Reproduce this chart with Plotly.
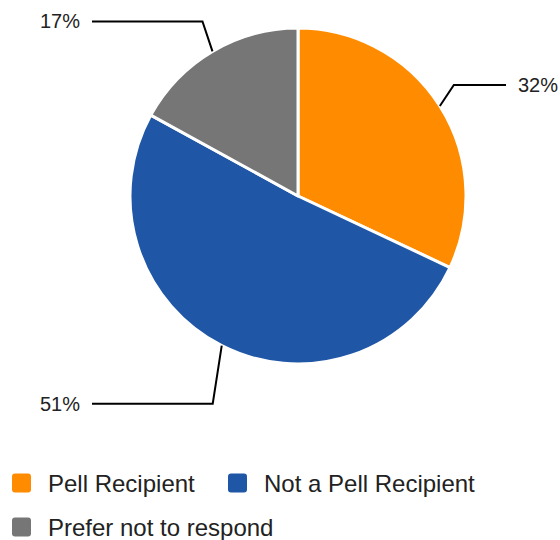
import math
import plotly.graph_objects as go

# ---- data ----
categories = ["Pell Recipient", "Not a Pell Recipient", "Prefer not to respond"]
values = [32, 51, 17]
colors = ["#FF8C00", "#1F57A6", "#767676"]

# ---- layout / style constants (pixels) ----
W, H = 560, 540
CX, CY, R = 298, 196, 168
FONT = "Liberation Sans, Arial, sans-serif"
# leader elbow offsets relative to slice edge point, and horizontal run end
ELBOW = [(14, -21), (-9, 58), (-10, -30)]
RIGHT_END, LEFT_END = 506, 92
LEGEND_POS = [(12, 483), (228, 483), (12, 527)]
SQ = 19


def px(x):
    return x / W


def py(y):
    return 1 - y / H


fig = go.Figure()
fig.add_trace(go.Pie(
    labels=categories,
    values=values,
    marker=dict(colors=colors, line=dict(color="white", width=3)),
    sort=False,
    direction="clockwise",
    rotation=0,
    textinfo="none",
    hoverinfo="label+percent",
    showlegend=False,
    domain=dict(x=[px(CX - R), px(CX + R)], y=[py(CY + R), py(CY - R)]),
))

shapes = []
annotations = []
total = sum(values)
cum = 0
for i, v in enumerate(values):
    mid = (cum + v / 2) / total * 2 * math.pi
    cum += v
    ex = CX + R * math.sin(mid)
    ey = CY - R * math.cos(mid)
    bx = ex + ELBOW[i][0]
    by = ey + ELBOW[i][1]
    right = math.sin(mid) > 0
    hx = RIGHT_END if right else LEFT_END
    shapes.append(dict(type="path", xref="paper", yref="paper",
                       path=f"M{px(ex)},{py(ey)} L{px(bx)},{py(by)} L{px(hx)},{py(by)}",
                       line=dict(color="#000000", width=2)))
    pct = round(v / total * 100)
    annotations.append(dict(
        x=px(hx + (10 if right else -10)), y=py(by), xref="paper", yref="paper",
        text=f"{pct}%", showarrow=False,
        xanchor="left" if right else "right", yanchor="middle",
        font=dict(family=FONT, size=20, color="#222222")))

# manual legend
for i, name in enumerate(categories):
    lx, ly = LEGEND_POS[i]
    x0, x1 = lx, lx + SQ
    y0, y1 = ly - SQ / 2, ly + SQ / 2
    r = 3
    path = (f"M{px(x0 + r)},{py(y0)} L{px(x1 - r)},{py(y0)} "
            f"Q{px(x1)},{py(y0)} {px(x1)},{py(y0 + r)} L{px(x1)},{py(y1 - r)} "
            f"Q{px(x1)},{py(y1)} {px(x1 - r)},{py(y1)} L{px(x0 + r)},{py(y1)} "
            f"Q{px(x0)},{py(y1)} {px(x0)},{py(y1 - r)} L{px(x0)},{py(y0 + r)} "
            f"Q{px(x0)},{py(y0)} {px(x0 + r)},{py(y0)} Z")
    shapes.append(dict(type="path", xref="paper", yref="paper", path=path,
                       fillcolor=colors[i], line=dict(width=0)))
    annotations.append(dict(
        x=px(lx + 34), y=py(ly), xref="paper", yref="paper",
        text=name, showarrow=False, xanchor="left", yanchor="middle",
        font=dict(family=FONT, size=24, color="#222222")))

fig.update_layout(
    width=W, height=H,
    margin=dict(l=0, r=0, t=0, b=0),
    paper_bgcolor="white",
    plot_bgcolor="white",
    shapes=shapes,
    annotations=annotations,
    showlegend=False,
)

fig.write_html("out.html", config={"displayModeBar": False},
               post_script="document.body.style.margin='0';document.body.style.padding='0';")
